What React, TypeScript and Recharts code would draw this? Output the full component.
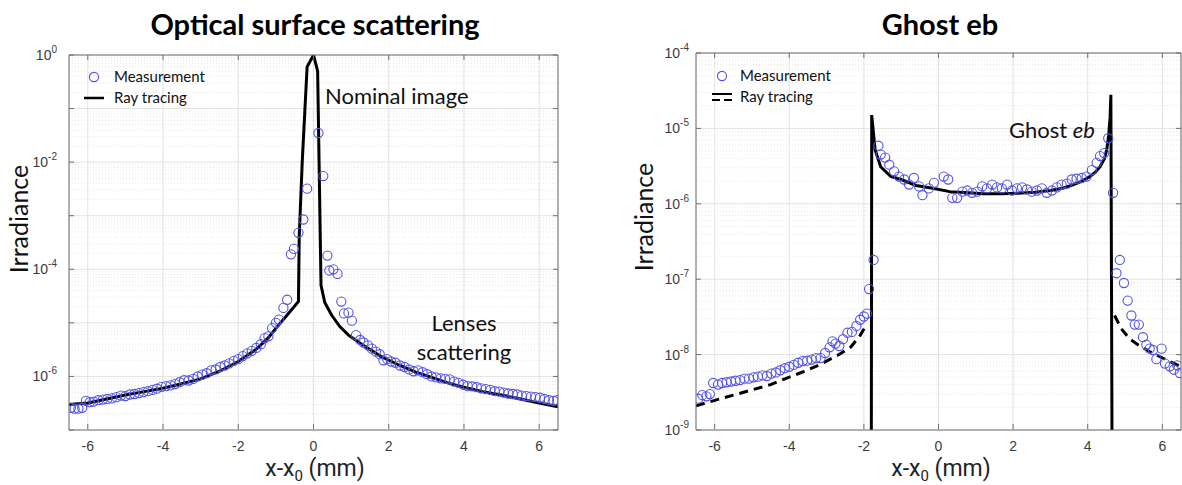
import React from "react";
import {
    ComposedChart,
    Line,
    Scatter,
    XAxis,
    YAxis,
    CartesianGrid,
    ReferenceLine,
} from "recharts";

type Pt = [number, number];

const X_TICKS = [-6, -4, -2, 0, 2, 4, 6];
const X_DOMAIN = [-6.5, 6.5];
const LEFT_DECADES = [1e-7, 1e-6, 1e-5, 1e-4, 1e-3, 1e-2, 1e-1, 1];
const GHOST_DECADES = [1e-9, 1e-8, 1e-7, 1e-6, 1e-5, 1e-4];

// optical surface scattering
const scatterMeasurement: Pt[] = [
    [-6.45, 2.6e-7], [-6.35, 2.5e-7], [-6.25, 2.5e-7], [-6.15, 2.6e-7], [-6.05, 3.5e-7],
    [-5.95, 3.3e-7], [-5.85, 3.4e-7], [-5.72, 3.6e-7], [-5.6, 3.7e-7], [-5.48, 3.8e-7],
    [-5.36, 3.9e-7], [-5.24, 4.1e-7], [-5.12, 4.4e-7], [-5.0, 4.3e-7], [-4.88, 4.6e-7],
    [-4.76, 4.7e-7], [-4.64, 4.9e-7], [-4.52, 5.1e-7], [-4.4, 5.3e-7], [-4.28, 5.6e-7],
    [-4.16, 5.9e-7], [-4.04, 6.4e-7], [-3.92, 6.6e-7], [-3.8, 6.8e-7], [-3.68, 7.2e-7],
    [-3.56, 7.8e-7], [-3.44, 8.5e-7], [-3.32, 8.4e-7], [-3.2, 9.0e-7], [-3.08, 1.0e-6],
    [-2.96, 1.08e-6], [-2.84, 1.15e-6], [-2.72, 1.3e-6], [-2.6, 1.35e-6], [-2.48, 1.5e-6],
    [-2.36, 1.6e-6], [-2.24, 1.75e-6], [-2.12, 1.95e-6], [-2.0, 2.1e-6], [-1.88, 2.4e-6],
    [-1.76, 2.7e-6], [-1.64, 3.0e-6], [-1.52, 3.4e-6], [-1.4, 4.0e-6], [-1.3, 5.2e-6],
    [-1.2, 5.6e-6], [-1.1, 8.0e-6], [-1.0, 1.0e-5], [-0.92, 1.15e-5], [-0.8, 1.9e-5],
    [-0.7, 2.7e-5], [-0.6, 1.9e-4], [-0.52, 2.4e-4], [-0.4, 4.8e-4], [-0.27, 8.5e-4],
    [-0.17, 3.2e-3], [0.13, 0.035], [0.26, 5.5e-3], [0.37, 1.8e-4], [0.42, 9.5e-5],
    [0.53, 1.0e-4], [0.64, 8.2e-5], [0.74, 2.5e-5], [0.81, 1.5e-5], [0.93, 1.55e-5],
    [1.02, 1.1e-5], [1.13, 5.9e-6], [1.24, 4.8e-6], [1.33, 4.3e-6], [1.45, 3.8e-6],
    [1.55, 3.3e-6], [1.66, 2.9e-6], [1.76, 2.6e-6], [1.86, 2.0e-6], [1.96, 2.1e-6],
    [2.06, 1.9e-6], [2.18, 1.8e-6], [2.3, 1.6e-6], [2.42, 1.5e-6], [2.54, 1.35e-6],
    [2.66, 1.25e-6], [2.78, 1.3e-6], [2.9, 1.2e-6], [3.02, 1.1e-6], [3.14, 1.0e-6],
    [3.26, 9.6e-7], [3.38, 9.2e-7], [3.5, 9.0e-7], [3.62, 8.8e-7], [3.74, 8.0e-7],
    [3.86, 7.6e-7], [3.98, 7.0e-7], [4.1, 6.6e-7], [4.22, 6.5e-7], [4.34, 6.3e-7],
    [4.46, 6.0e-7], [4.58, 5.8e-7], [4.7, 5.6e-7], [4.82, 5.3e-7], [4.94, 5.2e-7],
    [5.06, 5.0e-7], [5.18, 4.8e-7], [5.3, 4.7e-7], [5.42, 4.6e-7], [5.54, 4.4e-7],
    [5.66, 4.3e-7], [5.78, 4.2e-7], [5.9, 4.1e-7], [6.02, 4.0e-7], [6.14, 3.8e-7],
    [6.26, 3.6e-7], [6.38, 3.5e-7], [6.48, 3.6e-7],
];

const scatterRayTracing: Pt[] = [
    [-6.5, 3.0e-7], [-6.0, 3.2e-7], [-5.5, 3.8e-7], [-5.0, 4.5e-7], [-4.5, 5.2e-7],
    [-4.0, 6.0e-7], [-3.5, 7.3e-7], [-3.0, 9.0e-7], [-2.5, 1.25e-6], [-2.0, 1.9e-6],
    [-1.5, 3.3e-6], [-1.2, 5.3e-6], [-1.0, 7.9e-6], [-0.7, 1.4e-5], [-0.4, 2.5e-5],
    [-0.38, 4e-4], [-0.3, 1e-2], [-0.17, 0.6], [0, 1.0], [0.11, 0.5],
    [0.2, 5e-5], [0.3, 2.4e-5], [0.48, 1.4e-5], [0.7, 8.5e-6], [0.93, 5.9e-6],
    [1.38, 3.6e-6], [1.82, 2.3e-6], [2.3, 1.6e-6], [2.72, 1.2e-6], [3.2, 9.3e-7],
    [3.61, 7.4e-7], [4.0, 6.3e-7], [4.5, 5.2e-7], [5.0, 4.5e-7], [5.4, 3.9e-7],
    [6.0, 3.2e-7], [6.5, 2.7e-7],
];

// ghost eb
const ghostMeasurement: Pt[] = [
    [-6.44, 2.6e-9], [-6.33, 2.9e-9], [-6.22, 2.8e-9], [-6.13, 3.0e-9], [-6.04, 4.2e-9],
    [-5.91, 4.0e-9], [-5.8, 4.2e-9], [-5.68, 4.3e-9], [-5.56, 4.4e-9], [-5.44, 4.5e-9],
    [-5.32, 4.6e-9], [-5.2, 4.8e-9], [-5.08, 4.8e-9], [-4.96, 5.0e-9], [-4.84, 5.1e-9],
    [-4.72, 5.3e-9], [-4.6, 5.2e-9], [-4.48, 5.6e-9], [-4.36, 5.8e-9], [-4.24, 6.2e-9],
    [-4.12, 6.6e-9], [-4.0, 6.9e-9], [-3.88, 7.3e-9], [-3.76, 7.8e-9], [-3.64, 8.2e-9],
    [-3.52, 8.3e-9], [-3.4, 8.6e-9], [-3.28, 9.0e-9], [-3.16, 9.0e-9], [-3.04, 1.05e-8],
    [-2.92, 1.25e-8], [-2.84, 1.5e-8], [-2.76, 1.4e-8], [-2.66, 1.3e-8], [-2.56, 1.6e-8],
    [-2.44, 1.95e-8], [-2.32, 2.0e-8], [-2.2, 2.4e-8], [-2.1, 2.9e-8], [-2.0, 3.2e-8],
    [-1.92, 3.5e-8], [-1.86, 7.4e-8], [-1.74, 1.8e-7], [-1.61, 5.9e-6], [-1.55, 4.5e-6],
    [-1.43, 4.1e-6], [-1.32, 3.3e-6], [-1.19, 2.7e-6], [-1.06, 2.3e-6], [-0.92, 2.1e-6],
    [-0.79, 1.8e-6], [-0.66, 2.2e-6], [-0.52, 1.7e-6], [-0.43, 1.3e-6], [-0.26, 1.6e-6],
    [-0.12, 1.9e-6], [0.14, 2.3e-6], [0.26, 2.1e-6], [0.37, 1.2e-6], [0.5, 1.2e-6],
    [0.64, 1.45e-6], [0.77, 1.5e-6], [0.9, 1.4e-6], [1.04, 1.45e-6], [1.17, 1.7e-6],
    [1.3, 1.6e-6], [1.44, 1.8e-6], [1.57, 1.65e-6], [1.7, 1.6e-6], [1.84, 1.8e-6],
    [1.97, 1.5e-6], [2.1, 1.6e-6], [2.24, 1.65e-6], [2.37, 1.55e-6], [2.5, 1.45e-6],
    [2.64, 1.5e-6], [2.77, 1.6e-6], [2.9, 1.4e-6], [3.04, 1.5e-6], [3.17, 1.65e-6],
    [3.3, 1.8e-6], [3.44, 1.85e-6], [3.57, 2.1e-6], [3.7, 2.15e-6], [3.84, 2.2e-6],
    [3.97, 2.3e-6], [4.11, 2.8e-6], [4.24, 3.5e-6], [4.33, 4.3e-6], [4.44, 4.7e-6],
    [4.55, 7.4e-6], [4.68, 1.4e-6], [4.77, 1.2e-7], [4.86, 1.8e-7], [4.97, 8.9e-8],
    [5.07, 5.2e-8], [5.17, 3.3e-8], [5.26, 2.5e-8], [5.37, 2.5e-8], [5.48, 1.7e-8],
    [5.57, 1.35e-8], [5.66, 1.2e-8], [5.75, 1.15e-8], [5.84, 8.7e-9], [5.98, 1.2e-8],
    [6.07, 7.6e-9], [6.2, 7.0e-9], [6.31, 6.3e-9], [6.4, 7.2e-9], [6.47, 5.7e-9],
];

const ghostRaySolid: Pt[] = [
    [-1.8, 1e-9], [-1.79, 1.5e-5], [-1.7, 5.2e-6], [-1.55, 3.1e-6], [-1.28, 2.3e-6],
    [-1.0, 2.1e-6], [-0.6, 1.75e-6], [-0.12, 1.6e-6], [0.3, 1.45e-6], [0.8, 1.4e-6],
    [1.21, 1.36e-6], [1.7, 1.36e-6], [2.1, 1.38e-6], [2.6, 1.42e-6], [3.0, 1.5e-6],
    [3.35, 1.62e-6], [3.62, 1.8e-6], [3.85, 2.0e-6], [4.06, 2.3e-6], [4.2, 2.6e-6],
    [4.33, 3.1e-6], [4.45, 4.0e-6], [4.51, 5.2e-6], [4.56, 8e-6], [4.6, 1.4e-5],
    [4.62, 2.8e-5], [4.65, 1e-9],
];

const ghostRayDashLeft: Pt[] = [
    [-6.5, 2.1e-9], [-5.5, 2.9e-9], [-5.0, 3.4e-9], [-4.5, 4.0e-9], [-4.1, 4.8e-9],
    [-3.6, 6.0e-9], [-3.2, 7.3e-9], [-2.7, 9.8e-9], [-2.35, 1.26e-8], [-2.1, 1.8e-8],
    [-1.95, 2.4e-8],
];

const ghostRayDashRight: Pt[] = [
    [4.72, 3.3e-8], [4.9, 2.2e-8], [5.13, 1.6e-8], [5.4, 1.3e-8], [5.66, 1.1e-8],
    [6.11, 8.5e-9], [6.5, 6.9e-9],
];

const BLUE = "#5252e6";
const AXIS = "#6e6e6e";
const TICK_FONT = "'Liberation Sans', Arial, sans-serif";
const TEXT_FONT = "Lato, 'Open Sans', sans-serif";

const rows = (pts: Pt[]) => pts.map(([x, y]) => ({ x, y }));

const minorValues = (decades: number[]) => {
    const out: number[] = [];
    decades.slice(0, -1).forEach((d) => {
        for (let k = 2; k <= 9; k++) out.push(d * k);
    });
    return out;
};

const ring = (props: any) => (
    <circle cx={props.cx} cy={props.cy} r={4.6} fill="none" stroke={BLUE} strokeWidth={1.1} />
);

const makeYTick = (labelStep: number, gap: number) => (props: any) => {
    const { x, y, payload } = props;
    const exp = Math.round(Math.log10(payload.value));
    return (
        <g>
            <line x1={x + gap} x2={x + gap + 5} y1={y} y2={y} stroke={AXIS} />
            {exp % labelStep === 0 && (
                <text x={x} y={y + 5} textAnchor="end" fill="#3c3c3c" fontSize={14} fontFamily={TICK_FONT}>
                    10
                    <tspan dy={-7} fontSize={10}>
                        {String(exp)}
                    </tspan>
                </text>
            )}
        </g>
    );
};

const XTick = (props: any) => {
    const { x, y, payload } = props;
    return (
        <g>
            <line x1={x} x2={x} y1={y - 9} y2={y - 14} stroke={AXIS} />
            <text x={x} y={y + 13} textAnchor="middle" fill="#3c3c3c" fontSize={14} fontFamily={TICK_FONT}>
                {payload.value}
            </text>
        </g>
    );
};

const TopTick = (props: any) => (
    <line x1={props.x} x2={props.x} y1={props.y} y2={props.y + 5} stroke={AXIS} />
);
const RightTick = (props: any) => (
    <line x1={props.x} x2={props.x - 5} y1={props.y} y2={props.y} stroke={AXIS} />
);

type PanelProps = {
    left: number;
    width: number;
    margin: { top: number; right: number; bottom: number; left: number };
    decades: number[];
    labelStep: number;
    tickGap: number;
    measurement: Pt[];
    solid: Pt[];
    dashed: Pt[][];
};

// axes are 1px thick so recharts still draws them; margins are set 1px smaller
function Panel({ left, width, margin, decades, labelStep, tickGap, measurement, solid, dashed }: PanelProps) {
    const yDomain = [decades[0], decades[decades.length - 1]];
    const m = {
        top: margin.top - 1,
        right: margin.right - 1,
        bottom: margin.bottom - 1,
        left: margin.left - 1,
    };
    return (
        <div style={{ position: "absolute", left, top: 0 }}>
            <ComposedChart width={width} height={485} margin={m}>
                <CartesianGrid stroke="#e2e2e2" />
                {minorValues(decades).map((v) => (
                    <ReferenceLine key={v} y={v} stroke="#e6e6e6" strokeDasharray="1 2" />
                ))}
                <XAxis
                    dataKey="x"
                    type="number"
                    domain={X_DOMAIN}
                    ticks={X_TICKS}
                    allowDataOverflow
                    height={1}
                    tickSize={0}
                    tickMargin={8}
                    tick={XTick}
                    stroke={AXIS}
                />
                <XAxis
                    xAxisId="top"
                    orientation="top"
                    dataKey="x"
                    type="number"
                    domain={X_DOMAIN}
                    ticks={X_TICKS}
                    allowDataOverflow
                    height={1}
                    tickSize={0}
                    tickMargin={0}
                    tick={TopTick}
                    stroke={AXIS}
                />
                <YAxis
                    scale="log"
                    type="number"
                    domain={yDomain}
                    ticks={decades}
                    allowDataOverflow
                    width={1}
                    tickSize={0}
                    tickMargin={tickGap}
                    tick={makeYTick(labelStep, tickGap)}
                    stroke={AXIS}
                />
                <YAxis
                    yAxisId="right"
                    orientation="right"
                    scale="log"
                    type="number"
                    domain={yDomain}
                    ticks={decades}
                    allowDataOverflow
                    width={1}
                    tickSize={0}
                    tickMargin={0}
                    tick={RightTick}
                    stroke={AXIS}
                />
                <Scatter data={rows(measurement)} dataKey="y" shape={ring} isAnimationActive={false} />
                {dashed.map((seg, i) => (
                    <Line
                        key={i}
                        data={rows(seg)}
                        dataKey="y"
                        type="linear"
                        stroke="#000"
                        strokeWidth={3}
                        strokeDasharray="9 6"
                        dot={false}
                        isAnimationActive={false}
                    />
                ))}
                <Line
                    data={rows(solid)}
                    dataKey="y"
                    type="linear"
                    stroke="#000"
                    strokeWidth={3}
                    dot={false}
                    isAnimationActive={false}
                />
            </ComposedChart>
        </div>
    );
}

const abs = (left: number, top: number, extra: React.CSSProperties = {}): React.CSSProperties => ({
    position: "absolute",
    left,
    top,
    whiteSpace: "nowrap",
    fontFamily: TEXT_FONT,
    color: "#111",
    ...extra,
});

function Legend({ left, top, dashed }: { left: number; top: number; dashed: boolean }) {
    return (
        <div style={abs(left, top, { fontSize: 15, lineHeight: "21px" })}>
            <div style={{ display: "flex", alignItems: "center" }}>
                <svg width={26} height={14}>
                    <circle cx={dashed ? 12 : 10} cy={7} r={4.6} fill="none" stroke={BLUE} strokeWidth={1.1} />
                </svg>
                <span style={{ marginLeft: 4 }}>Measurement</span>
            </div>
            <div style={{ display: "flex", alignItems: "center" }}>
                <svg width={26} height={14}>
                    {dashed ? (
                        <>
                            <line x1={2} x2={22} y1={4} y2={4} stroke="#000" strokeWidth={2} />
                            <line x1={2} x2={22} y1={10} y2={10} stroke="#000" strokeWidth={2} strokeDasharray="8 4" />
                        </>
                    ) : (
                        <line x1={0} x2={20} y1={7} y2={7} stroke="#000" strokeWidth={2.5} />
                    )}
                </svg>
                <span style={{ marginLeft: 4 }}>Ray tracing</span>
            </div>
        </div>
    );
}

const centered = (cx: number, top: number, size: number, extra: React.CSSProperties = {}) =>
    abs(cx - 200, top, { width: 400, textAlign: "center", fontSize: size, lineHeight: `${size}px`, ...extra });

const yLabel = (cx: number, cy: number) =>
    abs(cx - 100, cy - 15, {
        width: 200,
        height: 30,
        lineHeight: "30px",
        textAlign: "center",
        fontSize: 25,
        transform: "rotate(-90deg)",
    });

const XLabel = ({ cx }: { cx: number }) => (
    <div style={centered(cx, 457, 23, { fontFamily: "Roboto, sans-serif", color: "#222" })}>
        x-x<sub style={{ fontSize: 15, verticalAlign: "-5px" }}>0</sub> (mm)
    </div>
);

export default function App() {
    return (
        <div style={{ position: "absolute", left: 0, top: 0, width: 1182, height: 485, background: "#fff", overflow: "hidden" }}>
            <Panel
                left={0}
                width={590}
                margin={{ top: 55, right: 32, bottom: 55, left: 69 }}
                decades={LEFT_DECADES}
                labelStep={2}
                tickGap={12}
                measurement={scatterMeasurement}
                solid={scatterRayTracing}
                dashed={[]}
            />
            <Panel
                left={590}
                width={592}
                margin={{ top: 53, right: 1, bottom: 55, left: 106 }}
                decades={GHOST_DECADES}
                labelStep={1}
                tickGap={7}
                measurement={ghostMeasurement}
                solid={ghostRaySolid}
                dashed={[ghostRayDashLeft, ghostRayDashRight]}
            />

            <div style={centered(315, 9, 29, { fontWeight: 700, color: "#000" })}>Optical surface scattering</div>
            <div style={centered(940, 9, 29, { fontWeight: 700, color: "#000" })}>Ghost eb</div>

            <div style={yLabel(18, 219)}>Irradiance</div>
            <div style={yLabel(643, 217)}>Irradiance</div>
            <XLabel cx={315} />
            <XLabel cx={941} />

            <Legend left={84} top={66} dashed={false} />
            <Legend left={710} top={65} dashed={true} />

            <div style={abs(325, 85, { fontSize: 22, lineHeight: "22px" })}>Nominal image</div>
            <div style={centered(464, 308, 22, { lineHeight: "29px" })}>
                Lenses
                <br />
                scattering
            </div>
            <div style={abs(1009, 119, { fontSize: 22, lineHeight: "22px" })}>
                Ghost <i>eb</i>
            </div>
        </div>
    );
}
